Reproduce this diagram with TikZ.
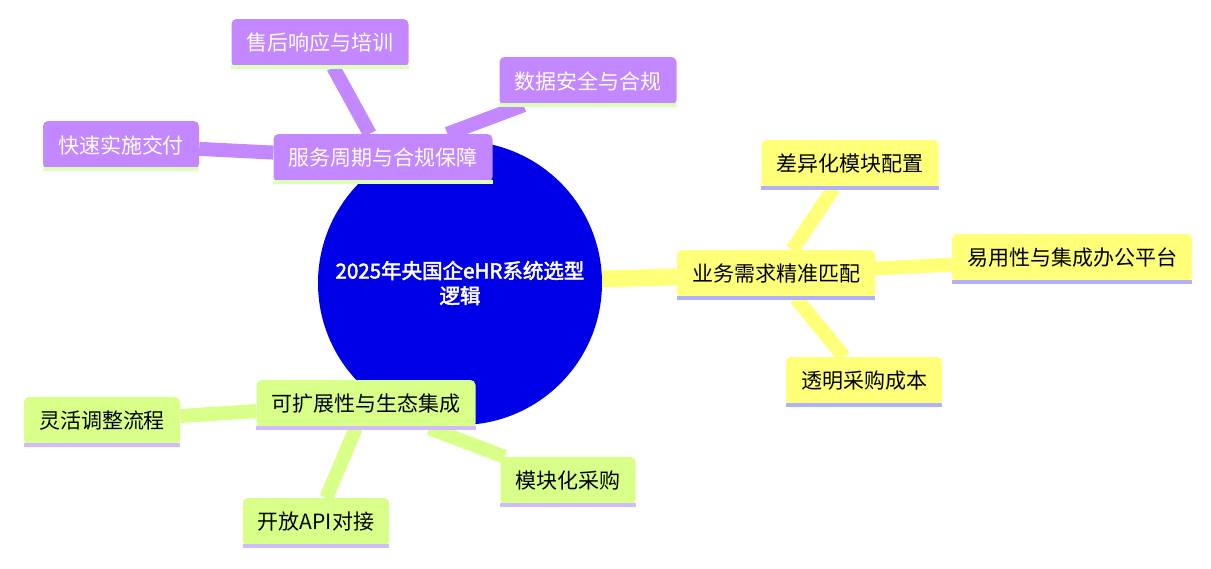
\documentclass[tikz,border=0pt]{standalone}
\usepackage{fontspec}
\setmainfont{Noto Sans CJK SC}
\newfontfamily\rootfont[FakeBold=2.5]{Noto Sans CJK SC}
\usetikzlibrary{backgrounds}
\definecolor{rootblue}{HTML}{0000E8}
\definecolor{purplefill}{HTML}{C387FF}
\definecolor{purpleline}{HTML}{DCFFBA}
\definecolor{yellowfill}{HTML}{FFFF78}
\definecolor{yellowline}{HTML}{B0B0FF}
\definecolor{greenfill}{HTML}{D8FF88}
\definecolor{greenline}{HTML}{D2BAFF}
\tikzset{x=1pt, y=-1pt, % one unit is one pixel of the layout, y runs down
every node/.style={font=\fontsize{21}{25}\selectfont},
root/.style={circle, fill=rootblue, text=white, minimum size=284pt, align=center, font=\rootfont\fontsize{20.5}{25}\selectfont},
box/.style={rounded corners=5pt, minimum height=48pt, inner xsep=15pt, inner ysep=0pt, % the rounded boxes
 append after command={(\tikzlastnode.south west) edge[draw=#1, line width=4pt, sharp corners] (\tikzlastnode.south east)}},
purple/.style={box=purpleline, fill=purplefill, text=white},
yellow/.style={box=yellowline, fill=yellowfill},
green/.style={box=greenline, fill=greenfill},
main/.style={line width=17pt, draw=#1}, % edges from the root
sub/.style={line width=14pt, draw=#1}, % edges to the leaves
}

\begin{document}
\begin{tikzpicture}
\useasboundingbox (0,0) rectangle (1211,568);
\node[root] (0) at (460,283) {2025年央国企eHR系统选型\\逻辑};
\node[purple] (1) at (383,158) {服务周期与合规保障};
\node[purple] (11) at (320,43) {售后响应与培训};
\node[purple] (12) at (588,81) {数据安全与合规};
\node[purple] (13) at (121,145) {快速实施交付};
\node[yellow] (2) at (776,274) {业务需求精准匹配};
\node[yellow] (21) at (850,164) {差异化模块配置};
\node[yellow] (22) at (1072,258) {易用性与集成办公平台};
\node[yellow] (23) at (864,381) {透明采购成本};
\node[green] (3) at (366,404) {可扩展性与生态集成};
\node[green] (31) at (102,421) {灵活调整流程};
\node[green] (32) at (316,522) {开放API对接};
\node[green] (33) at (568,481) {模块化采购};
\begin{scope}[on background layer]
\draw[main=purplefill] (0) -- (1);
\draw[main=yellowfill] (0) -- (2);
\draw[main=greenfill] (0) -- (3);
\draw[sub=purplefill] (1) -- (11) (1) -- (12) (1) -- (13);
\draw[sub=yellowfill] (2) -- (21) (2) -- (22) (2) -- (23);
\draw[sub=greenfill] (3) -- (31) (3) -- (32) (3) -- (33);
\end{scope}
\end{tikzpicture}
\end{document}
